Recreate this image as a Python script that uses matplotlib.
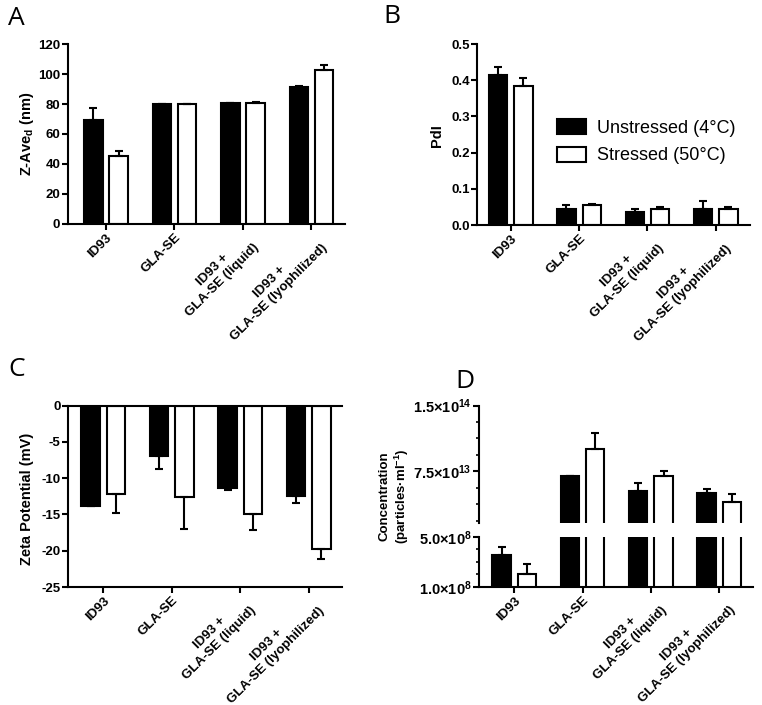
import matplotlib
matplotlib.use('Agg')
import matplotlib.pyplot as plt
import numpy as np
from matplotlib.ticker import MultipleLocator, FixedLocator, FixedFormatter
from matplotlib.patches import Patch

plt.rcParams['font.family'] = ['Liberation Sans', 'DejaVu Sans']
plt.rcParams['font.weight'] = 'bold'
plt.rcParams['mathtext.default'] = 'regular'
plt.rcParams['axes.unicode_minus'] = False

# ---------------- data ----------------
categories = ['ID93', 'GLA-SE', 'ID93 +\nGLA-SE (liquid)', 'ID93 +\nGLA-SE (lyophilized)']
series_labels = ['Unstressed (4°C)', 'Stressed (50°C)']

zave_unstressed = [69.5, 79.8, 80.5, 91.5]
zave_unstressed_err = [8.0, 0.4, 0.4, 0.5]
zave_stressed = [45.5, 79.8, 80.6, 102.5]
zave_stressed_err = [3.5, 0.5, 0.8, 3.5]

pdi_unstressed = [0.415, 0.045, 0.036, 0.045]
pdi_unstressed_err = [0.021, 0.011, 0.009, 0.022]
pdi_stressed = [0.385, 0.056, 0.045, 0.045]
pdi_stressed_err = [0.021, 0.002, 0.006, 0.006]

zeta_unstressed = [-13.8, -6.9, -11.3, -12.5]
zeta_unstressed_err = [0.1, 1.9, 0.3, 0.9]
zeta_stressed = [-12.2, -12.6, -14.9, -19.8]
zeta_stressed_err = [2.6, 4.4, 2.3, 1.4]

conc_unstressed = [3.5e8, 6.95e13, 5.2e13, 5.05e13]
conc_unstressed_err = [0.67e8, 0.05e13, 0.95e13, 0.45e13]
conc_stressed = [2.0e8, 1.0e14, 7.0e13, 4.0e13]
conc_stressed_err = [0.8e8, 1.9e13, 0.5e13, 0.9e13]

# ---------------- layout ----------------
W, H = 762, 705
fig = plt.figure(figsize=(W / 100, H / 100), dpi=100)


def ax_px(l, t, r, b):
    return fig.add_axes([l / W, 1 - b / H, (r - l) / W, (b - t) / H])


BW = 0.27
OFF = 0.185
LW = 1.5
TICKFS = 9.5
x = np.arange(len(categories))


def draw_bars(ax, u, ue, s, se, neg=False):
    ax.bar(x - OFF, u, width=BW, color='black', edgecolor='black', linewidth=LW, zorder=2)
    ax.bar(x + OFF, s, width=BW, color='white', edgecolor='black', linewidth=LW, zorder=2)
    z = np.zeros(len(x))
    for xp, v, e in ((x - OFF, u, ue), (x + OFF, s, se)):
        yerr = [e, z] if neg else [z, e]
        ax.errorbar(xp, v, yerr=yerr, fmt='none', ecolor='black', elinewidth=LW,
                    capsize=3.2, capthick=LW, zorder=3)


def style(ax, xlabels=True):
    ax.spines['top'].set_visible(False)
    ax.spines['right'].set_visible(False)
    for s in ['left', 'bottom', 'top']:
        ax.spines[s].set_linewidth(LW)
    ax.tick_params(axis='both', which='major', direction='out', length=4, width=LW,
                   labelsize=TICKFS, pad=1.5)
    ax.tick_params(axis='both', which='minor', direction='out', length=2.5, width=1.2)
    ax.set_xticks(x)
    if xlabels:
        ax.set_xticklabels(categories, rotation=45, ha='right', va='top',
                           rotation_mode='anchor', multialignment='center', fontsize=TICKFS)
    else:
        ax.set_xticklabels([])


# ---- Panel A ----
axA = ax_px(68, 44, 345, 224)
draw_bars(axA, zave_unstressed, zave_unstressed_err, zave_stressed, zave_stressed_err)
style(axA)
axA.set_xlim(-0.555, 3.49)
axA.set_ylim(0, 120)
axA.set_yticks(np.arange(0, 121, 20))
fig.text(27 / W, 1 - 134 / H, 'Z-Ave$_d$ (nm)', rotation=90, ha='center', va='center', fontsize=10.5)

# ---- Panel B ----
axB = ax_px(477.3, 44, 750, 225)
draw_bars(axB, pdi_unstressed, pdi_unstressed_err, pdi_stressed, pdi_stressed_err)
style(axB)
axB.set_xlim(-0.49, 3.5)
axB.set_ylim(0, 0.5)
axB.set_yticks(np.arange(0, 0.51, 0.1))
axB.yaxis.set_major_formatter(matplotlib.ticker.FormatStrFormatter('%.1f'))
fig.text(437 / W, 1 - 136 / H, 'PdI', rotation=90, ha='center', va='center', fontsize=10.5)
h1 = Patch(facecolor='black', edgecolor='black', linewidth=LW)
h2 = Patch(facecolor='white', edgecolor='black', linewidth=LW)
axB.legend([h1, h2], series_labels, loc='upper left',
           bbox_to_anchor=(557 / W, 1 - 119 / H), bbox_transform=fig.transFigure,
           frameon=False, prop={'size': 13, 'weight': 'normal'},
           handlelength=1.6, handleheight=0.9, handletextpad=0.6,
           labelspacing=0.55, borderpad=0, borderaxespad=0)

# ---- Panel C ----
axC = ax_px(68.3, 405.5, 341.7, 587)
draw_bars(axC, zeta_unstressed, zeta_unstressed_err, zeta_stressed, zeta_stressed_err, neg=True)
style(axC)
axC.spines['top'].set_visible(True)
axC.set_xlim(-0.51, 3.48)
axC.set_ylim(-25, 0)
axC.set_yticks(np.arange(-25, 1, 5))
fig.text(27 / W, 1 - 499 / H, 'Zeta Potential (mV)', rotation=90, ha='center', va='center', fontsize=10.5)

# ---- Panel D (broken axis) ----
axDt = ax_px(479.3, 405.5, 752.7, 523)
axDb = ax_px(479.3, 536.7, 752.7, 586.7)
for ax in (axDt, axDb):
    draw_bars(ax, conc_unstressed, conc_unstressed_err, conc_stressed, conc_stressed_err)
    ax.set_xlim(-0.51, 3.49)
style(axDt, xlabels=False)
axDt.spines['bottom'].set_visible(False)
axDt.tick_params(axis='x', which='both', length=0)
axDt.set_ylim(1.6e13, 1.5e14)
axDt.yaxis.set_major_locator(FixedLocator([7.5e13, 1.5e14]))
axDt.yaxis.set_major_formatter(FixedFormatter(['7.5×10$^{13}$', '1.5×10$^{14}$']))
axDt.yaxis.set_minor_locator(MultipleLocator(1.875e13))
style(axDb)
axDb.set_ylim(1e8, 5e8)
axDb.yaxis.set_major_locator(FixedLocator([1e8, 5e8]))
axDb.yaxis.set_major_formatter(FixedFormatter(['1.0×10$^{8}$', '5.0×10$^{8}$']))
axDb.yaxis.set_minor_locator(MultipleLocator(1e8))
for ax in (axDt, axDb):
    ax.tick_params(axis='y', which='major', labelsize=10.5)
fig.text(395 / W, 1 - 496 / H, 'Concentration\n(particles·ml$^{-1}$)', rotation=90,
         ha='center', va='center', fontsize=9.5, multialignment='center')

# ---- panel letters ----
for lbl, px, py in (('A', 8, 6), ('B', 383, 4), ('C', 8, 357), ('D', 455, 369)):
    fig.text(px / W, 1 - py / H, lbl, fontsize=19, fontweight='normal',
             family=['Open Sans', 'DejaVu Sans'], ha='left', va='top')

fig.savefig('out.png', dpi=100)
